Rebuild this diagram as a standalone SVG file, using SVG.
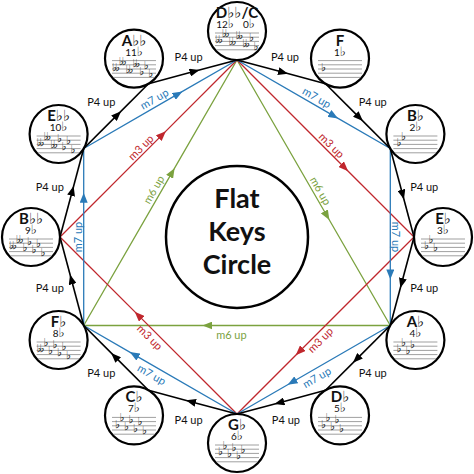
<svg xmlns="http://www.w3.org/2000/svg" width="474" height="474" viewBox="0 0 474 474">
<style>
text{font-family:Lato,"DejaVu Sans",sans-serif;fill:#111}
.node circle{fill:#fff;stroke:#000;stroke-width:2.2}
.nm{font-size:15px;font-weight:700;text-anchor:middle}
.nm tspan{font-size:15px;font-weight:400}
.num{font-size:10px;text-anchor:middle}
.num tspan{font-size:13px}
.ks{font-family:"DejaVu Sans",sans-serif;font-size:11px}
.e{fill:none;stroke-width:1.3}
.k{stroke:#000;stroke-width:1.6;marker-mid:url(#ak)}
.b{stroke:#2a7ab8;marker-mid:url(#ab)}
.r{stroke:#c0272d;marker-mid:url(#ar)}
.g{stroke:#7ba23f;marker-mid:url(#ag)}
.lbl{font-size:11px;text-anchor:middle;dominant-baseline:central}
.lb{fill:#2a7ab8}.lr{fill:#c0272d}.lg{fill:#7ba23f}
.title{font-size:27px;font-weight:700;text-anchor:middle}
</style>
<defs>
<marker id="ak" viewBox="0 0 10 8" refX="3" refY="4" markerWidth="10" markerHeight="8" markerUnits="userSpaceOnUse" orient="auto"><path d="M0,0L10,4L0,8z" fill="#000"/></marker>
<marker id="ab" viewBox="0 0 10 8" refX="3" refY="4" markerWidth="10" markerHeight="8" markerUnits="userSpaceOnUse" orient="auto"><path d="M0,0L10,4L0,8z" fill="#2a7ab8"/></marker>
<marker id="ar" viewBox="0 0 10 8" refX="3" refY="4" markerWidth="10" markerHeight="8" markerUnits="userSpaceOnUse" orient="auto"><path d="M0,0L10,4L0,8z" fill="#c0272d"/></marker>
<marker id="ag" viewBox="0 0 10 8" refX="3" refY="4" markerWidth="10" markerHeight="8" markerUnits="userSpaceOnUse" orient="auto"><path d="M0,0L10,4L0,8z" fill="#7ba23f"/></marker>
<g id="staff" stroke="#777" stroke-width="0.7">
<line x1="-22" y1="2" x2="22" y2="2"/>
<line x1="-22" y1="6.2" x2="22" y2="6.2"/>
<line x1="-22" y1="10.4" x2="22" y2="10.4"/>
<line x1="-22" y1="14.6" x2="22" y2="14.6"/>
<line x1="-20.5" y1="18.8" x2="20.5" y2="18.8"/>
</g>
</defs>
<rect width="474" height="474" fill="#fff"/>
<g id="connectors">
<path class="e g" d="M237,60 L325.9,214 L390.3,325.5"/>
<path class="e g" d="M390.3,325.5 L209.4,325.5 L83.7,325.5"/>
<path class="e g" d="M83.7,325.5 L171.1,174.2 L237,60"/>
<path class="e r" d="M237,60 L343.2,166.2 L414,237"/>
<path class="e r" d="M414,237 L300.7,350.3 L237,414"/>
<path class="e r" d="M237,414 L139.65,316.65 L60,237"/>
<path class="e r" d="M60,237 L160.9,136.1 L237,60"/>
<path class="e b" d="M237,60 L332,114.9 L390.3,148.5"/>
<path class="e b" d="M390.3,148.5 L390.3,272.4 L390.3,325.5"/>
<path class="e b" d="M390.3,325.5 L293.7,381.3 L237,414"/>
<path class="e b" d="M237,414 L135.8,355.6 L83.7,325.5"/>
<path class="e b" d="M83.7,325.5 L83.7,199.8 L83.7,148.5"/>
<path class="e b" d="M83.7,148.5 L176.4,94.9 L237,60"/>
<path class="e k" d="M237,60 L281.25,71.85 L325.5,83.7"/>
<path class="e k" d="M325.5,83.7 L357.9,116.1 L390.3,148.5"/>
<path class="e k" d="M390.3,148.5 L402.15,192.75 L414,237"/>
<path class="e k" d="M414,237 L402.15,281.25 L390.3,325.5"/>
<path class="e k" d="M390.3,325.5 L357.9,357.9 L325.5,390.3"/>
<path class="e k" d="M325.5,390.3 L281.25,402.15 L237,414"/>
<path class="e k" d="M237,414 L192.75,402.15 L148.5,390.3"/>
<path class="e k" d="M148.5,390.3 L116.1,357.9 L83.7,325.5"/>
<path class="e k" d="M83.7,325.5 L71.85,281.25 L60,237"/>
<path class="e k" d="M60,237 L71.85,192.75 L83.7,148.5"/>
<path class="e k" d="M83.7,148.5 L116.1,116.1 L148.5,83.7"/>
<path class="e k" d="M148.5,83.7 L192.75,71.85 L237,60"/>
<g id="labels">
<text class="lbl" x="285" y="56">P4 up</text>
<text class="lbl" x="372.7" y="101.3">P4 up</text>
<text class="lbl" x="424.2" y="186.8">P4 up</text>
<text class="lbl" x="424.2" y="287.2">P4 up</text>
<text class="lbl" x="372.7" y="372.7">P4 up</text>
<text class="lbl" x="285.9" y="419.3">P4 up</text>
<text class="lbl" x="188.6" y="419.3">P4 up</text>
<text class="lbl" x="101.3" y="372.7">P4 up</text>
<text class="lbl" x="49.8" y="287.2">P4 up</text>
<text class="lbl" x="49.8" y="186.8">P4 up</text>
<text class="lbl" x="101.3" y="101.3">P4 up</text>
<text class="lbl" x="188.6" y="56">P4 up</text>
<text class="lbl lb" x="317" y="97" transform="rotate(30 317 97)">m7 up</text>
<text class="lbl lb" x="396" y="237" transform="rotate(90 396 237)">m7 up</text>
<text class="lbl lb" x="316.5" y="377" transform="rotate(-30 316.5 377)">m7 up</text>
<text class="lbl lb" x="152" y="374" transform="rotate(30 152 374)">m7 up</text>
<text class="lbl lb" x="77" y="237" transform="rotate(-90 77 237)">m7 up</text>
<text class="lbl lb" x="154" y="98.5" transform="rotate(-30 154 98.5)">m7 up</text>
<text class="lbl lr" x="332" y="145" transform="rotate(45 332 145)">m3 up</text>
<text class="lbl lr" x="320" y="339.6" transform="rotate(-45 320 339.6)">m3 up</text>
<text class="lbl lr" x="150.3" y="337" transform="rotate(45 150.3 337)">m3 up</text>
<text class="lbl lr" x="140.4" y="147" transform="rotate(-45 140.4 147)">m3 up</text>
<text class="lbl lg" x="321" y="190.5" transform="rotate(60 321 190.5)">m6 up</text>
<text class="lbl lg" x="231.4" y="334">m6 up</text>
<text class="lbl lg" x="153.2" y="189.3" transform="rotate(-60 153.2 189.3)">m6 up</text>
</g>
</g>
<g id="center">
<circle cx="237" cy="237" r="71" fill="#fff" stroke="#000" stroke-width="2.5"/>
<text class="title" x="237" y="208">Flat</text>
<text class="title" x="237" y="241">Keys</text>
<text class="title" x="237" y="274">Circle</text>
</g>
<g id="n-C" class="node" transform="translate(237,31)">
<circle r="29"/>
<text class="nm" y="-13">D<tspan>♭♭</tspan>/C</text>
<text class="num" x="-12" y="-3">12<tspan>♭</tspan></text>
<text class="num" x="12" y="-3">0<tspan>♭</tspan></text>
<use href="#staff"/>
<text class="ks" x="-22 -19.1 -15.2 -12.3 -8.4 -5.5 -1.6 1.3 5.2 8.1 12 16.5" y="12.2 12.2 5.9 5.9 14.3 14.3 8 8 16.4 16.4 10.1 18.5">♭♭♭♭♭♭♭♭♭♭♭♭</text>
</g>
<g id="n-F" class="node" transform="translate(340,58.6)">
<circle r="29"/>
<text class="nm" y="-13">F</text>
<text class="num" y="-3">1<tspan>♭</tspan></text>
<use href="#staff"/>
<text class="ks" x="-19" y="12.2">♭</text>
</g>
<g id="n-Bb" class="node" transform="translate(415.4,134)">
<circle r="29"/>
<text class="nm" y="-13">B<tspan>♭</tspan></text>
<text class="num" y="-3">2<tspan>♭</tspan></text>
<use href="#staff"/>
<text class="ks" x="-19 -14.5" y="12.2 5.9">♭♭</text>
</g>
<g id="n-Eb" class="node" transform="translate(443,237)">
<circle r="29"/>
<text class="nm" y="-13">E<tspan>♭</tspan></text>
<text class="num" y="-3">3<tspan>♭</tspan></text>
<use href="#staff"/>
<text class="ks" x="-19 -14.5 -10" y="12.2 5.9 14.3">♭♭♭</text>
</g>
<g id="n-Ab" class="node" transform="translate(415.4,340)">
<circle r="29"/>
<text class="nm" y="-13">A<tspan>♭</tspan></text>
<text class="num" y="-3">4<tspan>♭</tspan></text>
<use href="#staff"/>
<text class="ks" x="-19 -14.5 -10 -5.5" y="12.2 5.9 14.3 8">♭♭♭♭</text>
</g>
<g id="n-Db" class="node" transform="translate(340,415.4)">
<circle r="29"/>
<text class="nm" y="-13">D<tspan>♭</tspan></text>
<text class="num" y="-3">5<tspan>♭</tspan></text>
<use href="#staff"/>
<text class="ks" x="-19 -14.5 -10 -5.5 -1" y="12.2 5.9 14.3 8 16.4">♭♭♭♭♭</text>
</g>
<g id="n-Gb" class="node" transform="translate(237,443)">
<circle r="29"/>
<text class="nm" y="-13">G<tspan>♭</tspan></text>
<text class="num" y="-3">6<tspan>♭</tspan></text>
<use href="#staff"/>
<text class="ks" x="-19 -14.5 -10 -5.5 -1 3.5" y="12.2 5.9 14.3 8 16.4 10.1">♭♭♭♭♭♭</text>
</g>
<g id="n-Cb" class="node" transform="translate(134,415.4)">
<circle r="29"/>
<text class="nm" y="-13">C<tspan>♭</tspan></text>
<text class="num" y="-3">7<tspan>♭</tspan></text>
<use href="#staff"/>
<text class="ks" x="-19 -14.5 -10 -5.5 -1 3.5 8" y="12.2 5.9 14.3 8 16.4 10.1 18.5">♭♭♭♭♭♭♭</text>
</g>
<g id="n-Fb" class="node" transform="translate(58.6,340)">
<circle r="29"/>
<text class="nm" y="-13">F<tspan>♭</tspan></text>
<text class="num" y="-3">8<tspan>♭</tspan></text>
<use href="#staff"/>
<text class="ks" x="-22 -19.1 -15.2 -10.7 -6.2 -1.7 2.8 7.3" y="12.2 12.2 5.9 14.3 8 16.4 10.1 18.5">♭♭♭♭♭♭♭♭</text>
</g>
<g id="n-Bbb" class="node" transform="translate(31,237)">
<circle r="29"/>
<text class="nm" y="-13">B<tspan>♭♭</tspan></text>
<text class="num" y="-3">9<tspan>♭</tspan></text>
<use href="#staff"/>
<text class="ks" x="-22 -19.1 -15.2 -12.3 -8.4 -3.9 0.6 5.1 9.6" y="12.2 12.2 5.9 5.9 14.3 8 16.4 10.1 18.5">♭♭♭♭♭♭♭♭♭</text>
</g>
<g id="n-Ebb" class="node" transform="translate(58.6,134)">
<circle r="29"/>
<text class="nm" y="-13">E<tspan>♭♭</tspan></text>
<text class="num" y="-3">10<tspan>♭</tspan></text>
<use href="#staff"/>
<text class="ks" x="-22 -19.1 -15.2 -12.3 -8.4 -5.5 -1.6 2.9 7.4 11.9" y="12.2 12.2 5.9 5.9 14.3 14.3 8 16.4 10.1 18.5">♭♭♭♭♭♭♭♭♭♭</text>
</g>
<g id="n-Abb" class="node" transform="translate(134,58.6)">
<circle r="29"/>
<text class="nm" y="-13">A<tspan>♭♭</tspan></text>
<text class="num" y="-3">11<tspan>♭</tspan></text>
<use href="#staff"/>
<text class="ks" x="-22 -19.1 -15.2 -12.3 -8.4 -5.5 -1.6 1.3 5.2 9.7 14.2" y="12.2 12.2 5.9 5.9 14.3 14.3 8 8 16.4 10.1 18.5">♭♭♭♭♭♭♭♭♭♭♭</text>
</g>
</svg>
